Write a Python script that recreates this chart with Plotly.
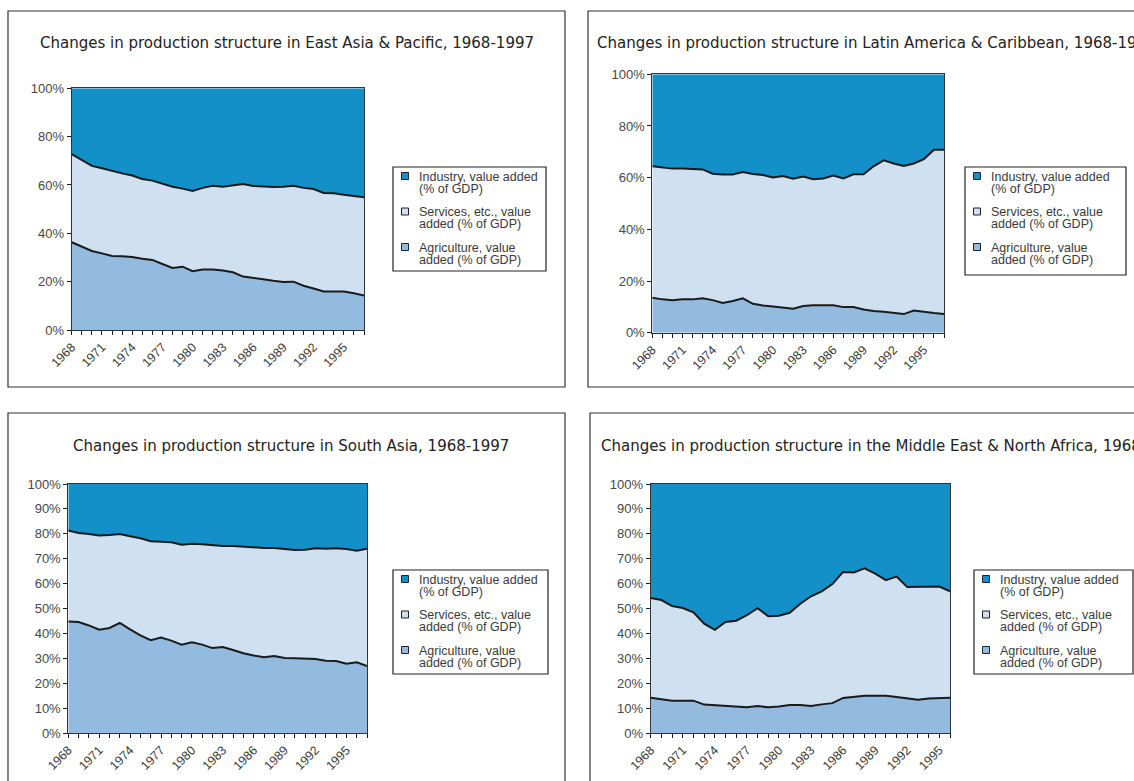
import plotly.graph_objects as go

# ---------------- data (shares of GDP, %) ----------------
years = list(range(1968, 1998))
years_mena = list(range(1968, 1997))

eap_agri = [36.3, 34.5, 32.7, 31.7, 30.6, 30.5, 30.2, 29.5, 29.0, 27.3, 25.7, 26.2, 24.3, 25.0, 25.0,
            24.6, 23.9, 22.1, 21.4, 21.0, 20.4, 19.9, 20.0, 18.3, 17.2, 15.9, 15.9, 15.9, 15.2, 14.3]
eap_serv = [36.5, 35.8, 35.2, 35.2, 35.1, 34.3, 33.7, 33.0, 32.8, 33.3, 33.6, 32.3, 33.2, 33.8, 34.7,
            34.7, 35.8, 38.3, 38.2, 38.3, 38.8, 39.4, 39.7, 40.5, 41.1, 40.8, 40.7, 40.1, 40.1, 40.6]
eap_ind = [27.2, 29.7, 32.1, 33.1, 34.3, 35.2, 36.1, 37.5, 38.2, 39.4, 40.7, 41.5, 42.5, 41.2, 40.3,
           40.7, 40.3, 39.6, 40.4, 40.7, 40.8, 40.7, 40.3, 41.2, 41.7, 43.3, 43.4, 44.0, 44.7, 45.1]

lac_agri = [13.5, 12.9, 12.6, 12.9, 12.9, 13.3, 12.6, 11.5, 12.3, 13.3, 11.2, 10.5, 10.1, 9.8, 9.3,
            10.3, 10.6, 10.6, 10.6, 9.9, 9.9, 9.0, 8.4, 8.1, 7.7, 7.2, 8.6, 8.0, 7.6, 7.2]
lac_serv = [50.9, 51.0, 50.9, 50.6, 50.5, 49.9, 48.9, 49.7, 48.9, 48.9, 50.2, 50.5, 50.0, 50.8, 50.3,
            50.1, 48.8, 49.1, 50.2, 49.8, 51.4, 52.3, 56.0, 58.6, 57.8, 57.3, 56.9, 59.2, 63.2, 63.6]
lac_ind = [35.6, 36.1, 36.5, 36.5, 36.6, 36.8, 38.5, 38.8, 38.8, 37.8, 38.6, 39.0, 39.9, 39.4, 40.4,
           39.6, 40.6, 40.3, 39.2, 40.3, 38.7, 38.7, 35.6, 33.3, 34.5, 35.5, 34.5, 32.8, 29.2, 29.2]

sa_agri = [44.8, 44.6, 43.2, 41.5, 42.2, 44.2, 41.6, 39.2, 37.3, 38.3, 37.1, 35.5, 36.4, 35.5, 34.1,
           34.5, 33.3, 32.0, 31.1, 30.4, 30.9, 30.1, 30.0, 30.0, 29.7, 29.0, 28.9, 27.8, 28.4, 26.9]
sa_serv = [36.5, 35.7, 36.7, 37.8, 37.3, 35.7, 37.4, 39.0, 39.7, 38.5, 39.5, 40.1, 39.6, 40.3, 41.3,
           40.6, 41.8, 42.8, 43.3, 43.9, 43.4, 43.9, 43.5, 43.6, 44.5, 45.0, 45.3, 46.1, 44.8, 47.1]
sa_ind = [18.7, 19.7, 20.1, 20.7, 20.5, 20.1, 21.0, 21.8, 23.0, 23.2, 23.4, 24.4, 24.0, 24.2, 24.6,
          24.9, 24.9, 25.2, 25.6, 25.7, 25.7, 26.0, 26.5, 26.4, 25.8, 26.0, 25.8, 26.1, 26.8, 26.0]

mena_agri = [14.2, 13.7, 13.0, 13.0, 13.0, 11.4, 11.2, 10.8, 10.8, 10.3, 10.8, 10.3, 10.6, 11.2, 11.2,
             10.8, 11.5, 12.0, 14.1, 14.7, 15.0, 15.0, 15.0, 14.5, 13.9, 13.4, 13.9, 13.9, 14.2]
mena_serv = [40.0, 39.7, 38.0, 37.2, 35.5, 32.5, 30.2, 33.8, 34.3, 37.0, 39.3, 36.6, 36.5, 37.1, 40.7,
             44.1, 45.4, 47.8, 50.6, 49.8, 51.1, 49.0, 46.4, 48.3, 44.7, 45.2, 44.7, 44.9, 42.7]
mena_ind = [45.8, 46.6, 49.0, 49.8, 51.5, 56.1, 58.6, 55.4, 54.9, 52.7, 49.9, 53.1, 52.9, 51.7, 48.1,
            45.1, 43.1, 40.2, 35.3, 35.5, 33.9, 36.0, 38.6, 37.2, 41.4, 41.4, 41.4, 41.2, 43.1]

series_names = ["Industry, value added", "Services, etc., value", "Agriculture, value"]
series_names2 = ["(% of GDP)", "added (% of GDP)", "added (% of GDP)"]

titles = [
    "Changes in production structure in East Asia & Pacific, 1968-1997",
    "Changes in production structure in Latin America & Caribbean, 1968-1997",
    "Changes in production structure in South Asia, 1968-1997",
    "Changes in production structure in the Middle East & North Africa, 1968-1997",
]

# ---------------- styling ----------------
W, H = 1134, 781
C_IND = "#1490C8"
C_SERV = "#CFE0F0"
C_AGR = "#92BBDF"
LINE = "#1a1a1a"
TXT = "#3a3a3a"
TITLE_FONT = "DejaVu Sans Condensed, Liberation Sans Narrow, sans-serif"
BODY_FONT = "Liberation Sans, Arial, sans-serif"


def fx(x):
    return x / W


def fy(y):
    return 1 - y / H


panels = [
    dict(yrs=years, agri=eap_agri, serv=eap_serv, ind=eap_ind, plot=(71.7, 88.3, 364, 330), dt=20,
         box=(8, 11, 565, 387), tx=(287, 42, "center"), leg=(393, 167, 546, 271)),
    dict(yrs=years, agri=lac_agri, serv=lac_serv, ind=lac_ind, plot=(652.3, 74.3, 944, 332.7), dt=20,
         box=(588, 11, 1160, 387), tx=(595, 42, "left"), leg=(965, 167, 1126, 275)),
    dict(yrs=years, agri=sa_agri, serv=sa_serv, ind=sa_ind, plot=(68.3, 484, 367, 733), dt=10,
         box=(8, 413, 565, 800), tx=(291, 445, "center"), leg=(393, 570, 548, 674)),
    dict(yrs=years_mena, agri=mena_agri, serv=mena_serv, ind=mena_ind, plot=(650.7, 484, 950, 733), dt=10,
         box=(590, 413, 1160, 800), tx=(599, 445, "left"), leg=(974, 570, 1133, 674)),
]

fig = go.Figure()
shapes = []
annotations = []
layout_axes = {}

for i, p in enumerate(panels):
    n = "" if i == 0 else str(i + 1)
    xa, ya = "x" + n, "y" + n
    for j, (vals, col, nm) in enumerate([(p["agri"], C_AGR, series_names[2]),
                                         (p["serv"], C_SERV, series_names[1]),
                                         (p["ind"], C_IND, series_names[0])]):
        kw = dict(groupnorm="percent") if j == 0 else {}
        fig.add_trace(go.Scatter(
            x=p["yrs"], y=vals, xaxis=xa, yaxis=ya, mode="lines", stackgroup="g" + str(i),
            line=dict(color=LINE, width=2 if j < 2 else 0), fillcolor=col, name=nm,
            showlegend=False, hoverinfo="skip", **kw))
    x0, y0, x1, y1 = p["plot"]
    yrs = p["yrs"]
    layout_axes["xaxis" + n] = dict(
        domain=[fx(x0), fx(x1)], anchor=ya, range=[yrs[0], yrs[-1]],
        tickmode="linear", tick0=1968, dtick=3, tickangle=-45,
        ticks="outside", ticklen=4, tickwidth=1, tickcolor=LINE,
        minor=dict(tickmode="linear", tick0=1968, dtick=1, ticks="outside", ticklen=4, tickwidth=1,
                   tickcolor=LINE),
        showline=True, linecolor="#333", linewidth=1, mirror=True, showgrid=False, zeroline=False,
        tickfont=dict(family=BODY_FONT, size=12.5, color=TXT), fixedrange=True, automargin=False)
    layout_axes["yaxis" + n] = dict(
        domain=[fy(y1), fy(y0)], anchor=xa, range=[0, 100],
        tickmode="linear", tick0=0, dtick=p["dt"], ticksuffix="%",
        ticks="outside", ticklen=4, tickwidth=1, tickcolor=LINE,
        showline=True, linecolor="#333", linewidth=1, mirror=True, showgrid=False, zeroline=False,
        tickfont=dict(family=BODY_FONT, size=13, color="#484848"), fixedrange=True, automargin=False)

    # panel frame
    bx0, by0, bx1, by1 = p["box"]
    shapes.append(dict(type="rect", xref="paper", yref="paper", x0=fx(bx0), x1=fx(bx1),
                       y0=fy(by1), y1=fy(by0), line=dict(color="#333", width=1.2)))
    # title
    tx, ty, anc = p["tx"]
    annotations.append(dict(text=titles[i], xref="paper", yref="paper", x=fx(tx), y=fy(ty),
                            xanchor=anc, yanchor="middle", showarrow=False,
                            font=dict(family=TITLE_FONT, size=16.7, color="#222")))
    # legend box
    lx0, ly0, lx1, ly1 = p["leg"]
    shapes.append(dict(type="rect", xref="paper", yref="paper", x0=fx(lx0), x1=fx(lx1),
                       y0=fy(ly1), y1=fy(ly0), line=dict(color="#222", width=1.2),
                       fillcolor="white"))
    for k, col in enumerate([C_IND, C_SERV, C_AGR]):
        base = ly0 + 9 + 35.5 * k
        sx = lx0 + 12
        shapes.append(dict(type="rect", xref="paper", yref="paper", x0=fx(sx - 3.5), x1=fx(sx + 3.5),
                           y0=fy(base + 3.5), y1=fy(base - 3.5), line=dict(color="#222", width=1),
                           fillcolor=col))
        annotations.append(dict(text=series_names[k], xref="paper", yref="paper", x=fx(lx0 + 24),
                                y=fy(base + 0.5), xanchor="left", yanchor="middle", showarrow=False,
                                font=dict(family=BODY_FONT, size=12.5, color=TXT)))
        annotations.append(dict(text=series_names2[k], xref="paper", yref="paper", x=fx(lx0 + 24),
                                y=fy(base + 12.8), xanchor="left", yanchor="middle", showarrow=False,
                                font=dict(family=BODY_FONT, size=12.5, color=TXT)))

fig.update_layout(width=W, height=H, margin=dict(l=0, r=0, t=0, b=0, autoexpand=False),
                  paper_bgcolor="white", plot_bgcolor="white", showlegend=False,
                  shapes=shapes, annotations=annotations, **layout_axes)
fig.write_html("out.html", config={"displayModeBar": False},
               post_script="document.body.style.margin='0';document.body.style.overflow='hidden';")
